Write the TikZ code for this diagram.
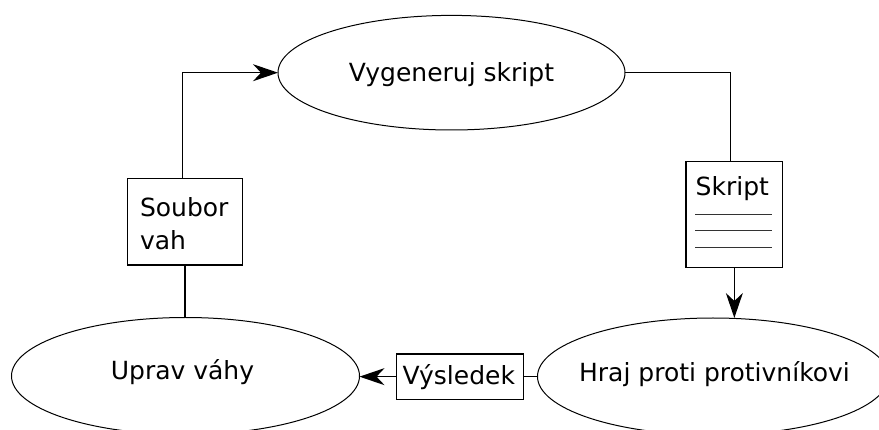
\documentclass[tikz,border=0pt]{standalone}
\usepackage{fontspec}
\setmainfont{DejaVu Sans}
\usetikzlibrary{shapes.geometric,arrows.meta}
\begin{document}
\begin{tikzpicture}[x=1pt,y=-1pt,
  ell/.style={draw, ellipse, line width=1pt, inner sep=0pt, outer sep=0pt},
  box/.style={draw, rectangle, line width=1.4pt, inner sep=0pt, outer sep=0pt},
  txt/.style={inner sep=0pt, outer sep=0pt, font=\fontsize{25}{33}\selectfont},
  conn/.style={line width=1.4pt},
  arr/.style={conn, -{Stealth[length=25pt,width=17pt,inset=8pt]}},
  rule/.style={line width=0.9pt, black!80}]
\clip (0,0) rectangle (879,430);
% ellipses
\node[ell, minimum width=347pt, minimum height=114.6pt] (vyg) at (451.5,72.7) {};
\node[ell, minimum width=348pt, minimum height=117pt] (uprav) at (185.5,376) {};
\node[ell, minimum width=351pt, minimum height=117pt] (hraj) at (713,376.5) {};
\node[txt, anchor=base] (vygt) at (451.5,81.7) {Vygeneruj skript};
\node[txt, anchor=base] (upravt) at (182.5,379.5) {Uprav váhy};
\node[txt, anchor=base] (hrajt) at (714.5,381.5) {Hraj proti protivníkovi};
% boxes
\node[box, minimum width=115.4pt, minimum height=86.7pt] (soubor) at (185,221.65) {};
\node[txt, anchor=north west, align=left] (soubort) at (140,197.5) {Soubor\\vah};
\node[box, minimum width=96.7pt, minimum height=105.6pt] (skript) at (734.35,214.5) {};
\node[txt, anchor=base west] (skriptt) at (695.7,195.7) {Skript};
\draw[rule] (695,214) -- (771.7,214);
\draw[rule] (695,230.7) -- (771.7,230.7);
\draw[rule] (695,247.3) -- (771.7,247.3);
\node[box, minimum width=127pt, minimum height=45.3pt] (vysl) at (460.2,376.65) {};
\node[txt, anchor=base west] (vyslt) at (402.7,385) {Výsledek};
% connectors
\draw[arr] ([xshift=-2.3pt]soubor.north) |- (vyg.west);
\draw[conn] (vyg.east) -| ([xshift=-3.6pt]skript.north);
\draw[arr] (skript.south) -- (skript.south |- hraj.north);
\draw[conn] (hraj.west) -- (hraj.west -| vysl.east);
\draw[arr] (vysl.west) -- (vysl.west -| uprav.east);
\draw[conn] (soubor.south) -- (soubor.south |- uprav.north);
\end{tikzpicture}
\end{document}
